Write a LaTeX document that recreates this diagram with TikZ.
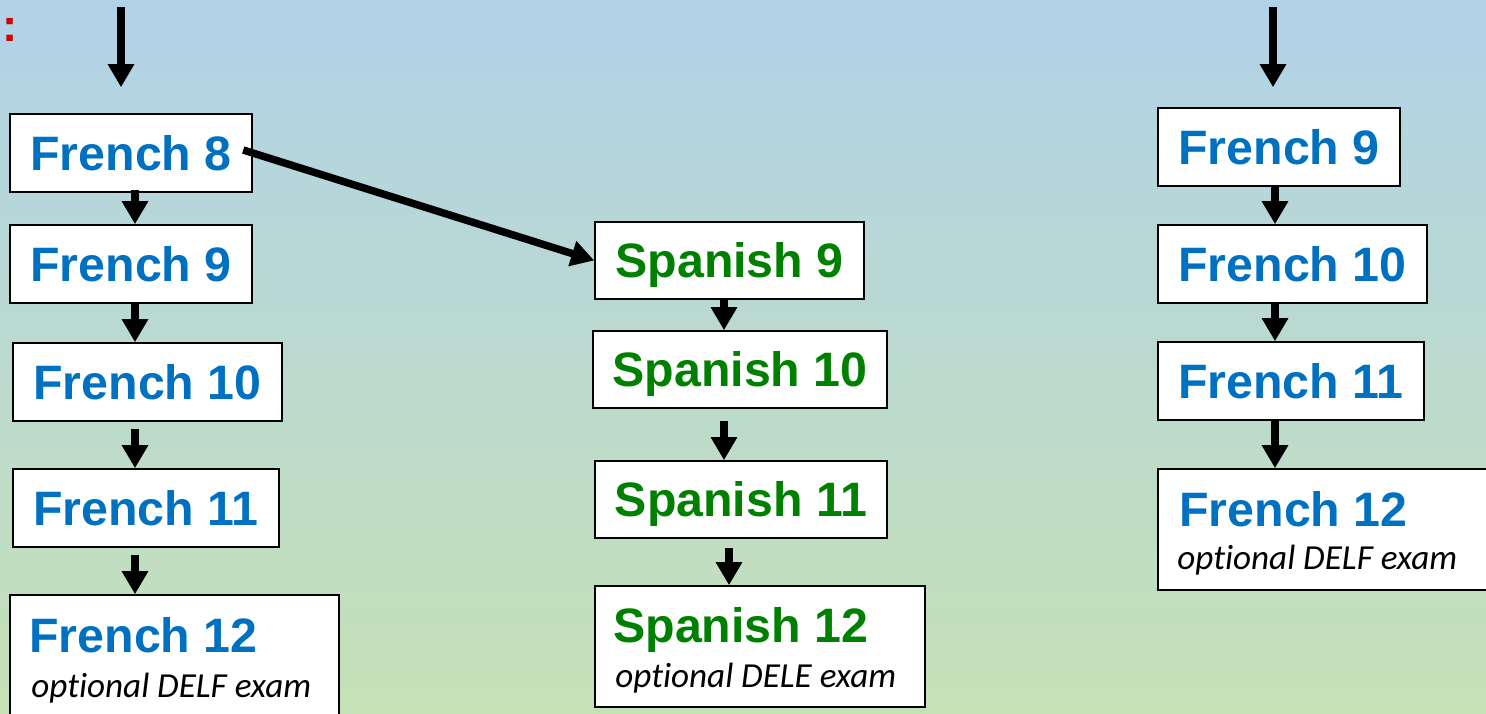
\documentclass[tikz,border=0pt]{standalone}
\usepackage{fontspec}
\usetikzlibrary{arrows.meta}
\newfontfamily\headfont{Liberation Sans}
\newfontfamily\notefont[Ligatures=NoCommon]{Carlito}
\definecolor{bgtop}{RGB}{177,210,232}
\definecolor{bgbot}{RGB}{197,225,182}
\definecolor{frblue}{RGB}{0,112,192}
\definecolor{spgreen}{RGB}{0,128,0}
\definecolor{markred}{RGB}{210,0,0}

\begin{document}
\begin{tikzpicture}[x=0.02cm, y=-0.02cm,
    course/.style={draw, fill=white, line width=0.9pt, inner sep=0pt,
        font=\headfont\bfseries\fontsize{27.5}{32}\selectfont,
        text height=19.6pt, text depth=0pt, minimum height=1.56cm},
    french/.style={course, text=frblue},
    spanish/.style={course, text=spgreen},
    finalbox/.style={draw, fill=white, line width=0.9pt, inner sep=0pt},
    finaltitle/.style={anchor=base west, inner sep=0pt,
        font=\headfont\bfseries\fontsize{27.5}{32}\selectfont},
    examnote/.style={anchor=base west, inner sep=0pt,
        font=\notefont\itshape\fontsize{20}{23}\selectfont},
    flow/.style={line width=0.15cm, -{Triangle[width=0.5cm,length=0.46cm]}}]

    \useasboundingbox (0,0) rectangle (1486,713);
    \clip (0,0) rectangle (1486,713);
    \shade[top color=bgtop, bottom color=bgbot] (0,0) rectangle (1486,713);

    \node[text=markred, font=\headfont\bfseries\fontsize{26}{28}\selectfont] (mark) at (10,30) {:};

    % left column
    \coordinate (inL) at (121,7);
    \coordinate (colL) at (135,0);
    \node[french, minimum width=4.84cm] (lf8) at (131,153) {French 8};
    \node[french, minimum width=4.84cm] (lf9) at (131,264) {French 9};
    \node[french, minimum width=5.38cm] (lf10) at (147.5,382) {French 10};
    \node[french, minimum width=5.32cm] (lf11) at (146,508) {French 11};
    \node[finalbox, minimum width=6.58cm, minimum height=2.64cm] (lf12) at (174.5,661) {};
    \node[finaltitle, text=frblue] (lf12t) at (29,652) {French 12};
    \node[examnote] (lf12n) at (31,697) {optional DELF exam};

    \draw[flow, shorten >=0.52cm] (inL) -- (lf8.north -| inL);
    \draw[flow, shorten <=-0.06cm] (lf8.south -| colL) -- (lf9.north -| colL);
    \draw[flow] (lf9.south -| colL) -- (lf10.north -| colL);
    \draw[flow, shorten <=0.14cm] (lf10.south -| colL) -- (lf11.north -| colL);
    \draw[flow, shorten <=0.14cm] (lf11.south -| colL) -- (lf12.north -| colL);

    % middle column
    \coordinate (colM) at (724,0);
    \coordinate (colMb) at (729,0);
    \node[spanish, minimum width=5.38cm, minimum height=1.54cm] (sp9) at (729.5,260.5) {Spanish 9};
    \node[spanish, minimum width=5.88cm, minimum height=1.54cm] (sp10) at (740,369.5) {Spanish 10};
    \node[spanish, minimum width=5.84cm, minimum height=1.54cm] (sp11) at (741,499.5) {Spanish 11};
    \node[finalbox, minimum width=6.6cm, minimum height=2.42cm] (sp12) at (760,646.5) {};
    \node[finaltitle, text=spgreen] (sp12t) at (613,642) {Spanish 12};
    \node[examnote] (sp12n) at (615,687) {optional DELE exam};

    \draw[flow, shorten <=-0.2cm] (lf8.east) -- (sp9.west);
    \draw[flow] (sp9.south -| colM) -- (sp10.north -| colM);
    \draw[flow, shorten <=0.24cm] (sp10.south -| colM) -- (sp11.north -| colM);
    \draw[flow, shorten <=0.18cm] (sp11.south -| colMb) -- (sp12.north -| colMb);

    % right column
    \coordinate (inR) at (1273,7);
    \coordinate (colR) at (1275,0);
    \node[french, minimum width=4.84cm] (rf9) at (1279,147) {French 9};
    \node[french, minimum width=5.38cm] (rf10) at (1292.5,264) {French 10};
    \node[french, minimum width=5.32cm] (rf11) at (1291,381) {French 11};
    \node[finalbox, minimum width=7.04cm, minimum height=2.42cm] (rf12) at (1334,529.5) {};
    \node[finaltitle, text=frblue] (rf12t) at (1179,526) {French 12};
    \node[examnote] (rf12n) at (1177,569) {optional DELF exam};

    \draw[flow, shorten >=0.4cm] (inR) -- (rf9.north -| inR);
    \draw[flow] (rf9.south -| colR) -- (rf10.north -| colR);
    \draw[flow] (rf10.south -| colR) -- (rf11.north -| colR);
    \draw[flow] (rf11.south -| colR) -- (rf12.north -| colR);
\end{tikzpicture}
\end{document}
